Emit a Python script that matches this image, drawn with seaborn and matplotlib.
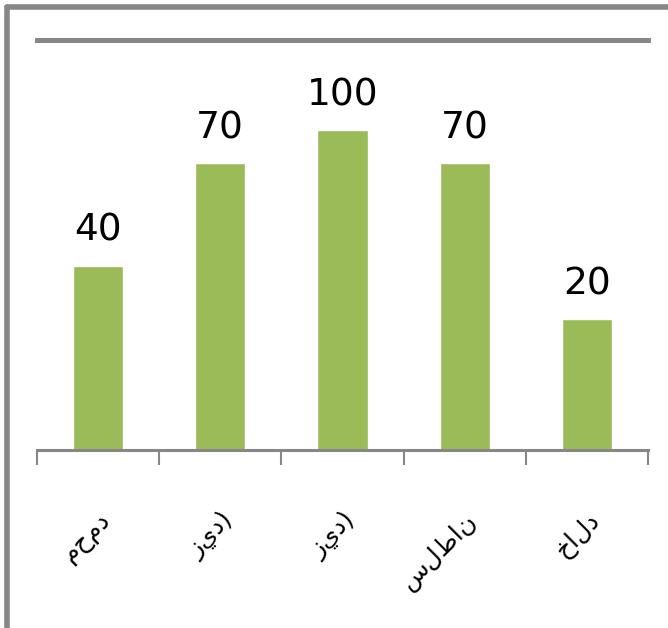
import matplotlib
matplotlib.use("Agg")
import matplotlib.pyplot as plt
import matplotlib.lines as mlines
import pandas as pd
import seaborn as sns

# names on the x axis
names = ["محمد", "زيد)", "زيد)", "سلطان", "خالد"]
# bar heights as drawn (axis runs 0-100)
heights = [45, 70, 78, 70, 32]
# data labels printed above the bars
labels = ["40", "70", "100", "70", "20"]

df = pd.DataFrame({"name": range(len(names)), "height": heights})

sns.set_theme(style="white")
plt.rcParams["font.family"] = ["DejaVu Sans"]

fig = plt.figure(figsize=(6.68, 6.28), dpi=100)
ax = fig.add_axes([37 / 668, 1 - 450 / 628, 611 / 668, 410 / 628])

sns.barplot(data=df, x="name", y="height", color="#9BBB59", saturation=1,
            width=0.41, ax=ax)

ax.set_ylim(0, 100)
ax.set_xlim(-0.5, len(names) - 0.5)
ax.set_xlabel("")
ax.set_ylabel("")
ax.set_yticks([])

for i, (h, t) in enumerate(zip(heights, labels)):
    ax.text(i, h + 6, t, ha="center", va="baseline", fontsize=27, color="black")

ax.set_xticks(range(len(names)))
ax.set_xticklabels(names, rotation=45, ha="right", rotation_mode="anchor",
                   fontsize=18, color="black")
ax.set_xticks([i - 0.5 for i in range(len(names) + 1)], minor=True)
ax.tick_params(axis="x", which="major", length=0, pad=42)
ax.tick_params(axis="x", which="minor", length=11, width=1.5,
               color="#878787", direction="out", bottom=True)

for side in ["left", "right"]:
    ax.spines[side].set_visible(False)
ax.spines["top"].set_color("#878787")
ax.spines["top"].set_linewidth(3.6)
ax.spines["bottom"].set_color("#878787")
ax.spines["bottom"].set_linewidth(2.2)

# outer chart frame (top and left edges)
fig.add_artist(mlines.Line2D([7 / 668, 1], [1 - 7 / 628, 1 - 7 / 628],
                             color="#878787", linewidth=4, transform=fig.transFigure))
fig.add_artist(mlines.Line2D([7 / 668, 7 / 668], [0, 1 - 7 / 628],
                             color="#878787", linewidth=4, transform=fig.transFigure))

fig.savefig("out.png", dpi=100)
